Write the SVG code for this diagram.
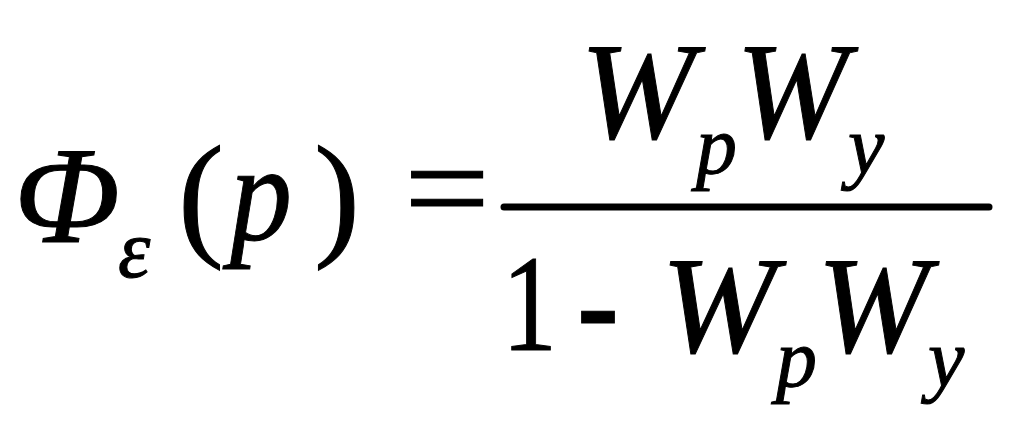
<svg xmlns="http://www.w3.org/2000/svg" width="1024" height="426" viewBox="0 0 1024 426">
<style>
text{font-family:"Liberation Serif","Times New Roman",serif;fill:#000;stroke:#000;stroke-width:1}
.it{font-style:italic}
.big{font-size:138px}
.sub{font-size:82px}
</style>
<rect width="1024" height="426" fill="#fff"/>
<g id="lhs">
<text class="it big" x="14" y="242" textLength="106" lengthAdjust="spacingAndGlyphs">Φ</text>
<text class="it sub" x="118" y="277">ε</text>
<text class="big" x="178" y="241">(</text>
<text class="it big" x="230" y="240" textLength="62" lengthAdjust="spacingAndGlyphs">p</text>
<text class="big" x="314" y="241">)</text>
<text class="big" x="404" y="235" textLength="86" lengthAdjust="spacingAndGlyphs">=</text>
</g>
<g id="fraction">
<line x1="504" y1="207" x2="989" y2="207" stroke="#000" stroke-width="7" stroke-linecap="round"/>
</g>
<g id="numerator">
<text class="it big" x="580" y="138" textLength="115" lengthAdjust="spacingAndGlyphs">W</text>
<text class="it sub" x="696" y="173">p</text>
<text class="it big" x="736" y="138" textLength="112" lengthAdjust="spacingAndGlyphs">W</text>
<text class="it sub" x="848" y="173">y</text>
</g>
<g id="denominator">
<text class="big" x="502" y="350" textLength="55" lengthAdjust="spacingAndGlyphs">1</text>
<text class="big" x="577" y="350" font-weight="bold" textLength="42" lengthAdjust="spacingAndGlyphs">-</text>
<text class="it big" x="661" y="352" textLength="115" lengthAdjust="spacingAndGlyphs">W</text>
<text class="it sub" x="776" y="386">p</text>
<text class="it big" x="817" y="352" textLength="112" lengthAdjust="spacingAndGlyphs">W</text>
<text class="it sub" x="928" y="386">y</text>
</g>
</svg>
